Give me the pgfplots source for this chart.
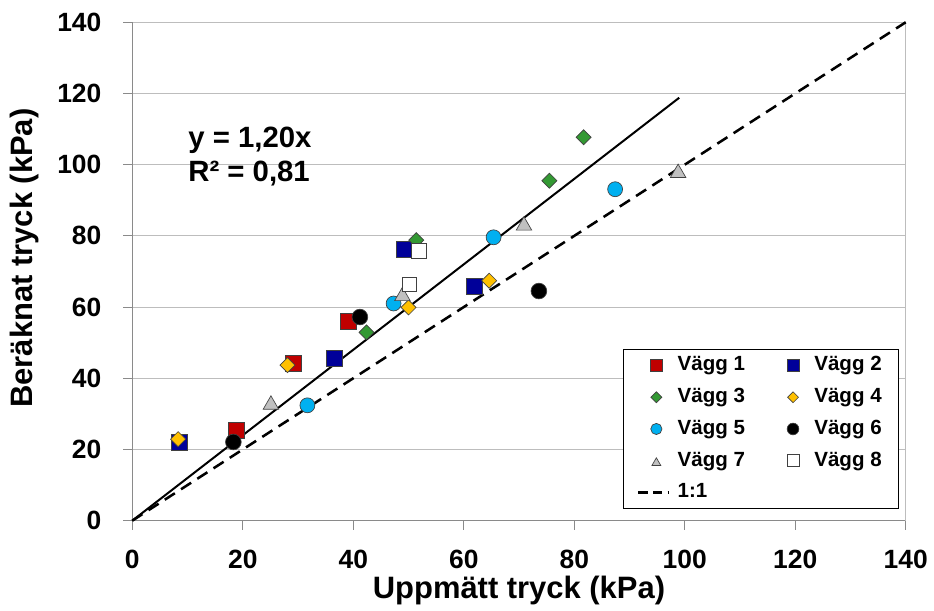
\documentclass[border=0pt]{standalone}
\usepackage{fontspec}
\setmainfont{Liberation Sans}
\usepackage{pgfplots}
\pgfplotsset{compat=1.18}

\definecolor{v1}{HTML}{C00000}
\definecolor{v2}{HTML}{000099}
\definecolor{v3}{HTML}{339933}
\definecolor{v4}{HTML}{FFC000}
\definecolor{v5}{HTML}{00B0F0}
\definecolor{v7}{HTML}{C0C0C0}
\definecolor{gridc}{HTML}{BDBDBD}
\definecolor{axc}{HTML}{8A8A8A}

\pgfplotsset{
  lm/.style={legend image code/.code={%
     \path[draw=none,fill=none] (0pt,-6pt) rectangle (27pt,6pt);
     \draw[##1,mark size=#1] plot coordinates {(13.5pt,0pt)};}},
  ldash/.style={legend image code/.code={%
     \path[draw=none,fill=none] (0pt,-6pt) rectangle (27pt,6pt);
     \draw[##1] (0pt,0pt) -- (23pt,0pt);}},
  mk/.style={only marks, mark options={draw=black!75, line width=0.5pt, fill=#1}},
  mkd/.style={only marks, mark=square*, mark options={draw=black!75, line width=0.5pt, fill=#1, rotate=45}},
  mkt/.style={only marks, mark=triangle*, mark options={draw=black!75, line width=0.5pt, fill=#1, yshift=-1.7pt}},
}

\begin{document}
\begin{tikzpicture}
\begin{axis}[
  scale only axis, width=580.1pt, height=373.8pt,
  xmin=0, xmax=140, ymin=0, ymax=140,
  xtick={0,20,...,140}, ytick={0,20,...,140},
  axis lines*=left,
  axis line style={draw=axc, line width=0.8pt},
  ymajorgrids, grid style={draw=gridc, line width=0.8pt},
  extra x ticks={140}, extra x tick labels={},
  extra x tick style={xmajorgrids, grid style={draw=gridc, line width=0.8pt}},
  tick align=outside, major tick length=6.75pt,
  tick style={draw=axc, line width=0.8pt},
  /pgf/number format/assume math mode=true,
  tick label style={font=\bfseries\fontsize{19.8}{20}\selectfont, inner sep=0pt},
  xticklabel style={anchor=north, yshift=-15.25pt},
  yticklabel style={anchor=east, xshift=-16.25pt},
  xlabel={Uppmätt tryck (kPa)},
  ylabel={Beräknat tryck (kPa)},
  label style={font=\bfseries\fontsize{23.2}{24}\selectfont, inner sep=0pt},
  xlabel style={at={([yshift=-58.2pt]axis description cs:0.5,0)}, anchor=base},
  ylabel style={at={([xshift=-74.5pt]axis description cs:0,0.527)}, anchor=base, rotate=0},
  clip=false,
  legend columns=2,
  legend cell align=left,
  legend style={at={(axis description cs:0.6348,0.3439)}, anchor=north west,
    draw=black, line width=0.75pt, fill=white,
    inner xsep=10pt, inner ysep=4.4pt, row sep=9pt,
    font=\bfseries\fontsize{15.4}{16}\selectfont,
    nodes={text height=11.5pt, text depth=3.3pt, inner xsep=2.5pt, inner ysep=0pt},
    /tikz/every even column/.append style={column sep=20pt}},
]
% 1:1 line (drawn first, below markers)
\addplot[black, line width=1.9pt, dash pattern=on 9pt off 5.5pt, forget plot] coordinates {(0,0) (140,140)};

\addplot[mk=v1, mark=square*, mark size=6pt, lm=4.5pt] coordinates {(18.9,25.3) (29.1,44.1) (39.1,56.1)};
\addlegendentry{Vägg 1}
\addplot[mk=v2, mark=square*, mark size=6pt, lm=4.5pt] coordinates {(8.5,22.1) (36.5,45.7) (49.2,76.2) (61.9,65.7)};
\addlegendentry{Vägg 2}
\addplot[mkd=v3, mark size=4pt, lm=2.9pt] coordinates {(42.4,52.9) (51.4,78.8) (75.5,95.5) (81.7,107.7)};
\addlegendentry{Vägg 3}
\addplot[mkd=v4, mark size=4pt, lm=2.9pt] coordinates {(8.3,22.9) (28.1,43.7) (50.0,59.9) (64.6,67.4)};
\addlegendentry{Vägg 4}
\addplot[mk=v5, mark=*, mark size=5.6pt, lm=4.2pt] coordinates {(31.7,32.4) (47.3,61.0) (65.4,79.6) (87.4,93.1)};
\addlegendentry{Vägg 5}
\addplot[mk=black, mark=*, mark size=5.9pt, lm=4.4pt] coordinates {(18.3,22.1) (41.2,57.2) (73.6,64.5)};
\addlegendentry{Vägg 6}
\addplot[mkt=v7, mark size=6.7pt, lm=3.9pt] coordinates {(25.1,33.2) (48.9,63.7) (70.9,83.5) (98.8,98.3)};
\addlegendentry{Vägg 7}
\addplot[mk=white, mark=square*, mark size=5.4pt, lm=4.5pt] coordinates {(50.1,66.4) (51.9,75.8)};
\addlegendentry{Vägg 8}

% regression line y = 1.20x
\addplot[black, line width=1.5pt, forget plot] coordinates {(0,0) (99,118.8)};

\addlegendimage{black, line width=1.9pt, dash pattern=on 7pt off 4pt, ldash}
\addlegendentry{1:1}

\node[anchor=base west, inner sep=0pt, font=\bfseries\fontsize{22}{23}\selectfont] at (axis cs:10.1,104.9) {y = 1,20x};
\node[anchor=base west, inner sep=0pt, font=\bfseries\fontsize{22}{23}\selectfont] at (axis cs:10.1,95.2) {R² = 0,81};
\end{axis}
\pgfresetboundingbox
\path ([xshift=-99.2pt,yshift=-67pt]current axis.south west) rectangle ++(700.5pt,457.5pt);
\end{tikzpicture}
\end{document}
